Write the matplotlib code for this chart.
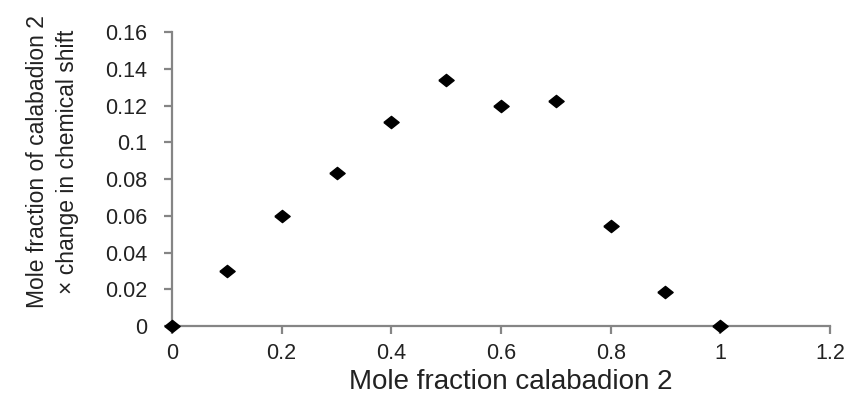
import matplotlib
matplotlib.use('Agg')
import matplotlib.pyplot as plt

# Job plot data: mole fraction vs mole fraction x chemical shift change
mole_fraction = [0.0, 0.1, 0.2, 0.3, 0.4, 0.5, 0.6, 0.7, 0.8, 0.9, 1.0]
shift_product = [0.0, 0.030, 0.060, 0.0835, 0.111, 0.134, 0.120, 0.1225, 0.0545, 0.0185, 0.0]

x_ticks = [0, 0.2, 0.4, 0.6, 0.8, 1, 1.2]
x_tick_labels = ['0', '0.2', '0.4', '0.6', '0.8', '1', '1.2']
y_ticks = [0, 0.02, 0.04, 0.06, 0.08, 0.1, 0.12, 0.14, 0.16]
y_tick_labels = ['0', '0.02', '0.04', '0.06', '0.08', '0.1', '0.12', '0.14', '0.16']

plt.rcParams['font.family'] = ['Liberation Sans', 'DejaVu Sans']

fig = plt.figure(figsize=(8.49, 3.96), dpi=100)
ax = fig.add_axes([0.2026, 0.1768, 0.775, 0.7422])

# slightly wide diamond, like the spreadsheet marker
diamond = [(-1, 0), (0, 0.8), (1, 0), (0, -0.8), (-1, 0)]
ax.plot(mole_fraction, shift_product, linestyle='none', marker=diamond,
        markersize=11, color='black', clip_on=False, zorder=3)

ax.set_xlim(0, 1.2)
ax.set_ylim(0, 0.16)
ax.set_xticks(x_ticks)
ax.set_xticklabels(x_tick_labels)
ax.set_yticks(y_ticks)
ax.set_yticklabels(y_tick_labels)

axis_grey = '#858585'
for side in ('top', 'right'):
    ax.spines[side].set_visible(False)
for side in ('left', 'bottom'):
    ax.spines[side].set_color(axis_grey)
    ax.spines[side].set_linewidth(1.6)
ax.tick_params(axis='both', direction='out', length=6, width=1.6,
               color=axis_grey, labelsize=15.5, labelcolor='#222222')
ax.tick_params(axis='y', pad=12)
ax.tick_params(axis='x', pad=6)

ax.set_xlabel('Mole fraction calabadion 2', fontsize=20, color='#222222')
ax.xaxis.set_label_coords(0.515, -0.145)
ax.set_ylabel('Mole fraction of calabadion 2\n\u00d7 change in chemical shift',
              fontsize=16.5, color='#222222', linespacing=1.35)
ax.yaxis.set_label_coords(-0.142, 0.56)

fig.savefig('out.png', dpi=100)
